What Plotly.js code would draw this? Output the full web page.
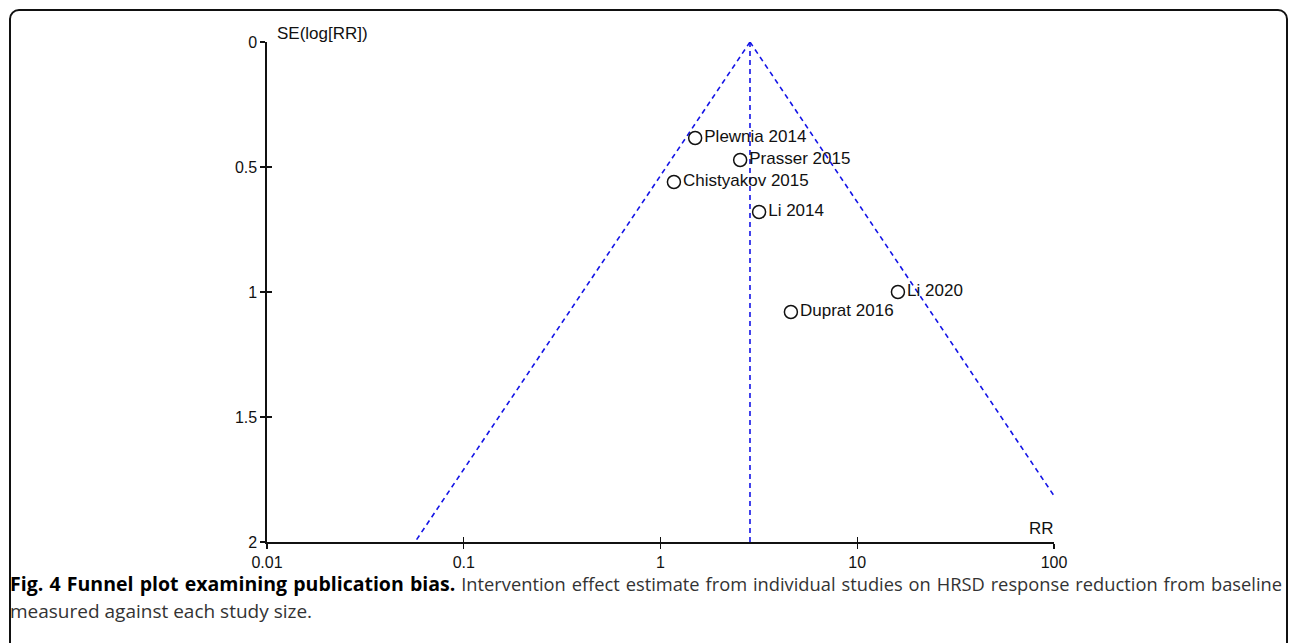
<!DOCTYPE html>
<html>
<head>
<meta charset="utf-8">
<script src="https://cdn.plot.ly/plotly-3.0.1.min.js"></script>
<style>
  html, body { margin:0; padding:0; background:#fff; width:1292px; height:643px; overflow:hidden; }
  #frame { position:absolute; left:9px; top:9px; width:1279px; height:700px; border:2px solid #111; border-radius:10px; box-sizing:border-box; }
  #chart { position:absolute; left:0; top:0; width:1292px; height:643px; }
  .cap { position:absolute; left:10px; width:1272px; font-family:"Open Sans", sans-serif; line-height:24px; height:24px; color:#333; }
  #cap1 { top:572px; font-size:18.3px; text-align:justify; text-align-last:justify; white-space:nowrap; }
  #cap2 { top:599px; font-size:19px; }
  #cap1 b { color:#000; font-size:19.5px; line-height:24px; }
</style>
</head>
<body>
<div id="frame"></div>
<div id="chart"></div>
<div class="cap" id="cap1"><b>Fig. 4 Funnel plot examining publication bias.</b> Intervention effect estimate from individual studies on HRSD response reduction from baseline</div>
<div class="cap" id="cap2">measured against each study size.</div>
<script>
// Study data
const studies = ["Plewnia 2014", "Prasser 2015", "Chistyakov 2015", "Li 2014", "Li 2020", "Duprat 2016"];
const rr      = [1.50, 2.54, 1.17, 3.17, 16.1, 4.60];
const seLogRR = [0.384, 0.472, 0.56, 0.68, 1.00, 1.08];

// Pooled estimate and funnel extent
const pooledRR = 2.85;
const seMax = 2;
const rrMax = 100;

// Axis ticks
const xTickVals = [0.01, 0.1, 1, 10, 100];
const xTickText = ["0.01", "0.1", "1", "10", "100"];
const yTickVals = [0, 0.5, 1, 1.5, 2];
const yTickText = ["0", "0.5", "1", "1.5", "2"];

const z = 1.96;
const lnC = Math.log(pooledRR);
const seRightEnd = (Math.log(rrMax) - lnC) / z;

const funnelColor = "#1414e6";
const dashPat = "5px,4px";
const FONT = "Liberation Sans, Arial, sans-serif";
const tickFont = {family: FONT, size: 16, color: "#111"};

const traces = [
  { x: [pooledRR, Math.exp(lnC - z * seMax)], y: [0, seMax], mode: "lines",
    line: {color: funnelColor, width: 1.6, dash: dashPat}, hoverinfo: "skip", showlegend: false },
  { x: [pooledRR, Math.exp(lnC + z * seRightEnd)], y: [0, seRightEnd], mode: "lines",
    line: {color: funnelColor, width: 1.6, dash: dashPat}, hoverinfo: "skip", showlegend: false },
  { x: [pooledRR, pooledRR], y: [0, seMax], mode: "lines",
    line: {color: funnelColor, width: 1.6, dash: dashPat}, hoverinfo: "skip", showlegend: false },
  { x: rr, y: seLogRR, mode: "markers+text", text: studies, textposition: "middle right",
    textfont: {family: FONT, size: 17, color: "#111"},
    marker: {symbol: "circle-open", size: 13, color: "#111", line: {width: 1.5, color: "#111"}},
    showlegend: false, cliponaxis: false }
];

const layout = {
  width: 1292, height: 643,
  margin: {l: 267, r: 238, t: 42, b: 101, pad: 0},
  paper_bgcolor: "rgba(0,0,0,0)", plot_bgcolor: "rgba(0,0,0,0)",
  showlegend: false,
  xaxis: {
    type: "log", range: [-2, 2], tickvals: xTickVals, ticktext: xTickText,
    showgrid: false, zeroline: false, showline: true, linecolor: "#111", linewidth: 1.6,
    ticks: "outside", ticklen: 5, tickwidth: 1.4, tickcolor: "#111",
    tickfont: tickFont, fixedrange: true
  },
  xaxis2: {
    type: "log", range: [-2, 2], tickvals: xTickVals, overlaying: "x", anchor: "y",
    showticklabels: false, showgrid: false, zeroline: false, showline: false,
    ticks: "inside", ticklen: 5, tickwidth: 1.4, tickcolor: "#111"
  },
  yaxis: {
    range: [2, 0], tickvals: yTickVals, ticktext: yTickText,
    showgrid: false, zeroline: false, showline: true, linecolor: "#111", linewidth: 1.6,
    ticks: "outside", ticklen: 5, tickwidth: 1.4, tickcolor: "#111",
    tickfont: tickFont, fixedrange: true
  },
  yaxis2: {
    range: [2, 0], tickvals: yTickVals, overlaying: "y", anchor: "x",
    showticklabels: false, showgrid: false, zeroline: false, showline: false,
    ticks: "inside", ticklen: 5, tickwidth: 1.4, tickcolor: "#111"
  },
  annotations: [
    { text: "SE(log[RR])", xref: "paper", yref: "paper", x: 0, y: 1, xanchor: "left", yanchor: "middle",
      xshift: 8, yshift: 9, showarrow: false, font: {family: FONT, size: 17, color: "#111"} },
    { text: "RR", xref: "paper", yref: "paper", x: 1, y: 0, xanchor: "right", yanchor: "middle",
      xshift: 2, yshift: 14, showarrow: false, font: {family: FONT, size: 17, color: "#111"} }
  ]
};

// invisible trace so the overlay axes (inside tick halves) are drawn
traces.push({x: [1], y: [1], xaxis: "x2", yaxis: "y2", mode: "markers", marker: {opacity: 0}, hoverinfo: "skip", showlegend: false});

Plotly.newPlot("chart", traces, layout, {displayModeBar: false, staticPlot: true});
</script>
</body>
</html>
